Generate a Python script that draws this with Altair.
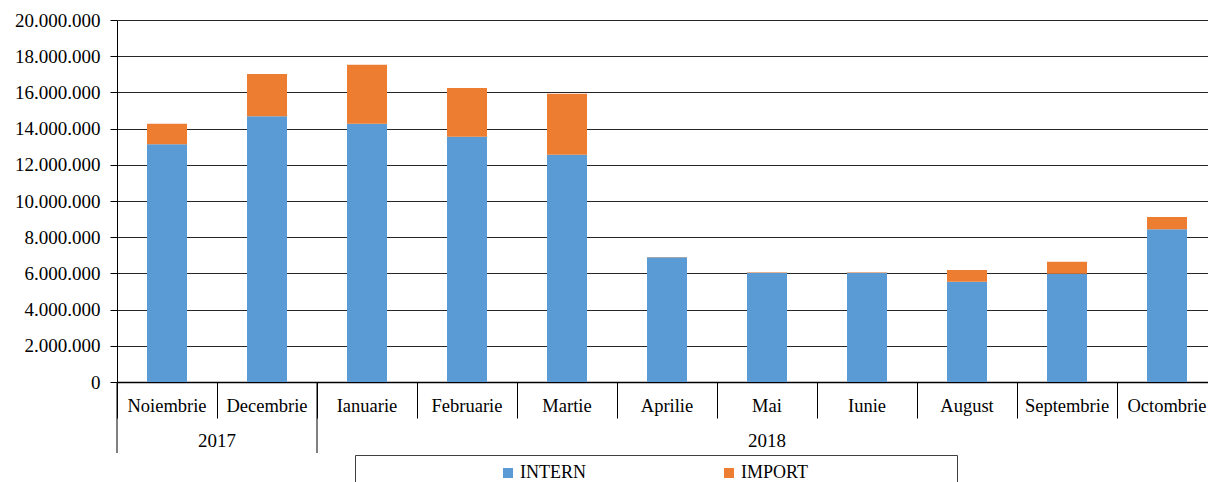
import altair as alt
import pandas as pd

# ---- data ----
months = ["Noiembrie", "Decembrie", "Ianuarie", "Februarie", "Martie", "Aprilie",
          "Mai", "Iunie", "August", "Septembrie", "Octombrie"]
intern = [13130000, 14680000, 14270000, 13550000, 12560000, 6890000,
          6040000, 6040000, 5540000, 5980000, 8440000]
imports = [1140000, 2340000, 3260000, 2690000, 3370000, 20000,
           20000, 20000, 650000, 670000, 680000]
series = ["INTERN", "IMPORT"]
colors = ["#5B9BD5", "#ED7D31"]
y_ticks = [0, 2000000, 4000000, 6000000, 8000000, 10000000,
           12000000, 14000000, 16000000, 18000000, 20000000]
year_labels = ["2017", "2018"]
year_label_month = ["Decembrie", "Mai"]      # month at the middle of each year group
year_start_month = ["Noiembrie", "Ianuarie"]  # first month of each year group

rows = []
for m, a, b in zip(months, intern, imports):
    rows.append({"luna": m, "serie": "INTERN", "valoare": a, "ord": 0})
    rows.append({"luna": m, "serie": "IMPORT", "valoare": b, "ord": 1})
df = pd.DataFrame(rows)

W, H = 1100, 362
PAD_L = 109
PAD_R = 1200 - PAD_L - W   # plot runs to the right edge, as in the reference
FONT = "Liberation Serif, Times New Roman, DejaVu Serif, serif"
x_scale = alt.Scale(domain=months, paddingInner=0, paddingOuter=0)

x_axis = alt.Axis(title=None, bandPosition=0, tickSize=36, tickColor="black",
                  labelAngle=0, labelPadding=-7,
                  labelBaseline="alphabetic", labelFont=FONT, labelFontSize=18.5,
                  labelColor="black", domainColor="black", domainWidth=1.5,
                  labelOverlap=False, labelLimit=200, grid=False)

NB = "\u00a0"
ZW = "\u200b"
legend_expr = ("datum.label == 'IMPORT' ? pad(datum.label, 37, '" + NB + "') + '" + ZW +
               "' : datum.label")

bars = alt.Chart(df).mark_bar(width={"band": 0.4}).encode(
    x=alt.X("luna:N", sort=months, scale=x_scale, axis=x_axis),
    y=alt.Y("valoare:Q", stack="zero",
            scale=alt.Scale(domain=[0, 20000000], nice=False),
            axis=alt.Axis(title=None, values=y_ticks,
                          labelExpr="replace(format(datum.value, ','), /,/g, '.')",
                          labelFont=FONT, labelFontSize=19, labelColor="black",
                          labelPadding=10, tickSize=7, tickColor="black",
                          domainColor="black", grid=True, gridColor="#262626",
                          gridWidth=1)),
    color=alt.Color("serie:N", scale=alt.Scale(domain=series, range=colors),
                    legend=alt.Legend(
                        title=NB, titleOrient="left", titleFontSize=1,
                        titlePadding=135, orient="none", legendX=238, legendY=435,
                        direction="horizontal", columns=2, columnPadding=134,
                        symbolType="square", symbolSize=100, symbolStrokeWidth=0,
                        labelFont=FONT, labelFontSize=18, labelColor="black",
                        labelOffset=3, padding=9, strokeColor="#404040",
                        labelLimit=400, labelExpr=legend_expr)),
    order=alt.Order("ord:Q"),
)

year_sep = alt.Chart(pd.DataFrame({"luna": year_start_month})).mark_rule(
    color="black", strokeWidth=1
).encode(
    x=alt.X("luna:N", sort=months, scale=x_scale, bandPosition=0, axis=x_axis),
    y=alt.value(H),
    y2=alt.value(H + 71),
)

year_a = alt.Chart(pd.DataFrame({"luna": [year_label_month[0]], "an": [year_labels[0]]})).mark_text(
    font=FONT, fontSize=19, color="black", baseline="alphabetic"
).encode(
    x=alt.X("luna:N", sort=months, scale=x_scale, bandPosition=0, axis=x_axis),
    y=alt.value(H + 65),
    text="an:N",
)
year_b = alt.Chart(pd.DataFrame({"luna": [year_label_month[1]], "an": [year_labels[1]]})).mark_text(
    font=FONT, fontSize=19, color="black", baseline="alphabetic"
).encode(
    x=alt.X("luna:N", sort=months, scale=x_scale, bandPosition=0.5, axis=x_axis),
    y=alt.value(H + 65),
    text="an:N",
)

chart = alt.layer(bars, year_sep, year_a, year_b).properties(
    width=W, height=H,
    autosize=alt.AutoSizeParams(type="none"),
    padding={"left": PAD_L, "top": 12, "right": PAD_R, "bottom": 100},
).configure_view(stroke=None).configure(background="white", font=FONT)

chart.save("out.html", embed_options={"renderer": "svg", "actions": False})
